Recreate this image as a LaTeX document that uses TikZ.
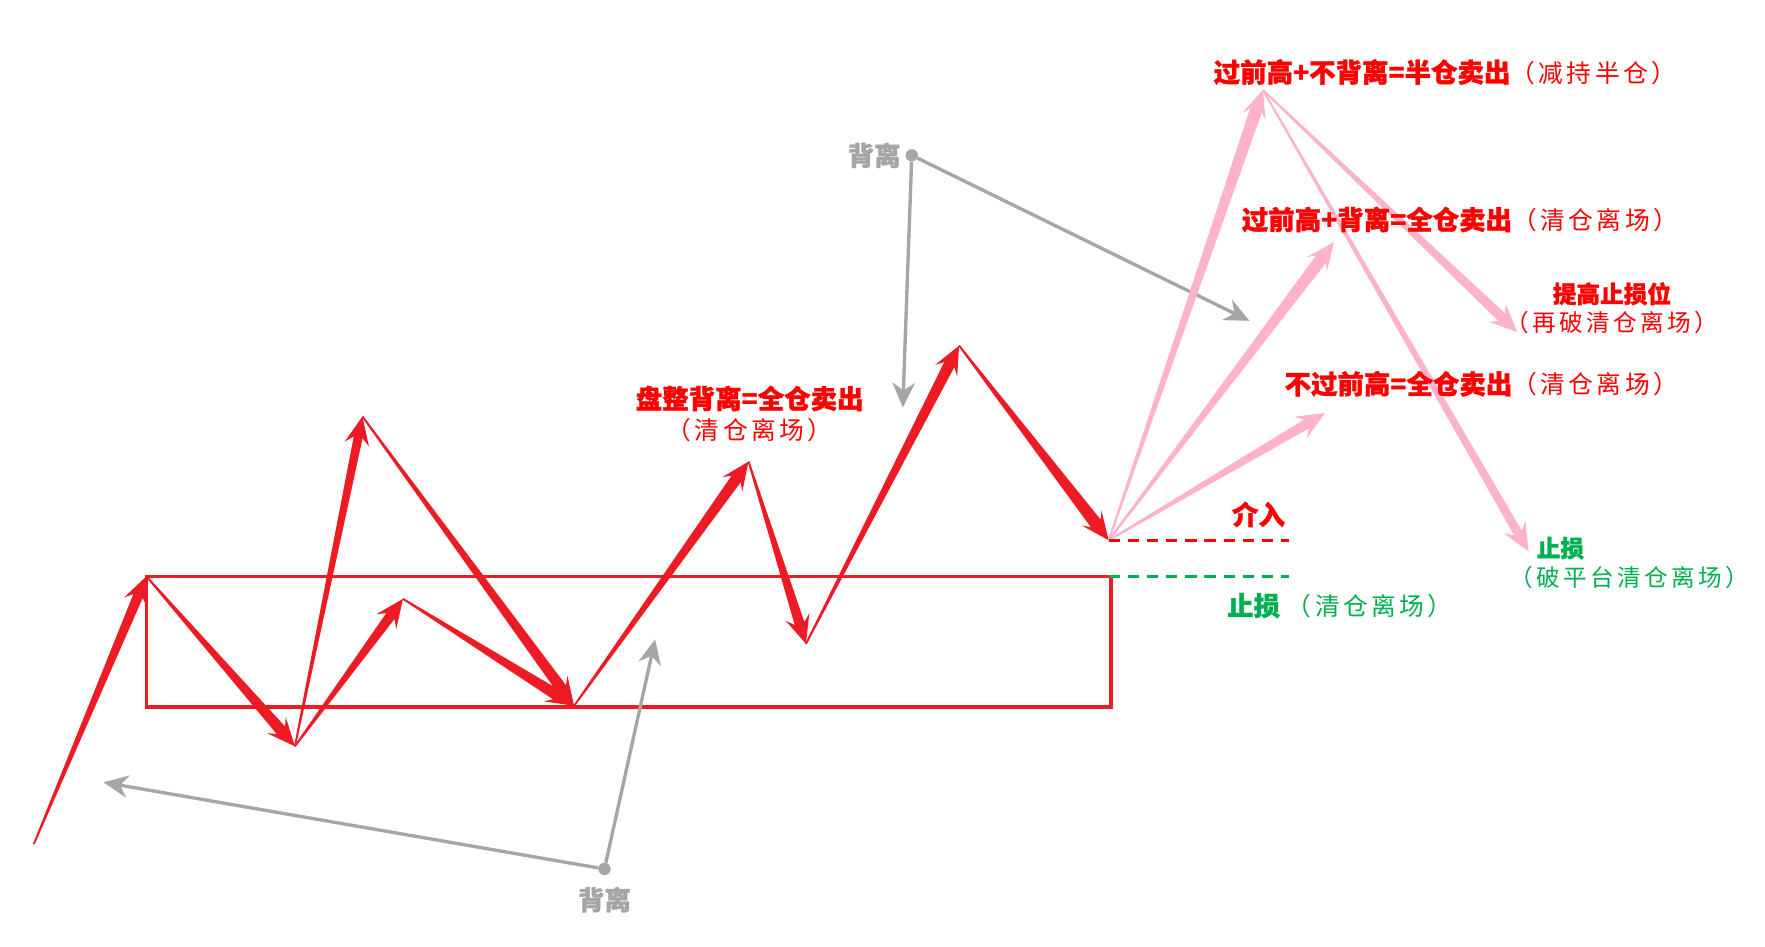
\documentclass[tikz,border=0pt]{standalone}
\usepackage{fontspec}
\setmainfont{Noto Sans CJK SC}[BoldFeatures={FakeBold=1.2}]
\newfontfamily\subfont{Noto Sans CJK SC}[LetterSpace=14]
\usepackage{tikz}
\usetikzlibrary{positioning, arrows.meta, calc}
\definecolor{kred}{HTML}{ED1C24}
\definecolor{tred}{HTML}{FF0000}
\definecolor{kpink}{HTML}{FFB3CB}
\definecolor{kgray}{HTML}{A6A6A6}
\definecolor{kgreen}{HTML}{00B050}
\newcommand{\paren}[1]{{\fontsize{22}{26}\subfont\mdseries #1}}

% tapered arrow: [colour]{from}{to}{half-width at the head}
\newcommand{\taperarrow}[4][kred]{%
  \coordinate (tN) at ($(#3)!19pt!(#2)$);
  \coordinate (tB) at ($(#3)!25pt!(#2)$);
  \fill[#1] ($(#2)!0.8pt!90:(#3)$) -- ($(tN)!#4!90:(#3)$) -- ($(tB)!11pt!90:(#3)$)
    -- (#3) -- ($(tB)!11pt!-90:(#3)$) -- ($(tN)!#4!-90:(#3)$)
    -- ($(#2)!0.8pt!-90:(#3)$) -- cycle;
}

\begin{document}
\begin{tikzpicture}[
  x=1pt, y=-1pt,
  box/.style={draw=kred, line width=3pt},
  gline/.style={draw=kgray, line width=3pt, -{Stealth[length=22pt,width=20pt,inset=7pt]}},
  gdot/.style={circle, fill=kgray, inner sep=0pt, minimum size=11pt},
  lbl/.style={font=\fontsize{23.5}{28}\selectfont\bfseries, text=tred, inner sep=1pt},
  sub/.style={font=\fontsize{22}{26}\subfont, text=tred, inner sep=1pt},
  small/.style={font=\fontsize{21}{25}\selectfont\bfseries},
  smallsub/.style={font=\fontsize{21}{25}\subfont},
]
\useasboundingbox (0,0) rectangle (1568,841);

% Price path
\coordinate (p0) at (30,750);
\coordinate (p1) at (130,512);
\coordinate (p2) at (262,663);
\coordinate (p3) at (322,370);
\coordinate (p4) at (358,532);
\coordinate (p5) at (510,627);
\coordinate (p6) at (665,410);
\coordinate (p7) at (716,572);
\coordinate (p8) at (852,307);
\coordinate (p9) at (985,480);
\coordinate (rc) at (987,628);

% Platform box
\draw[box] (p1) rectangle (rc);

\taperarrow{p0}{p1}{4.5pt}
\taperarrow{p1}{p2}{5pt}
\taperarrow{p2}{p3}{4pt}
\taperarrow{p2}{p4}{4.5pt}
\taperarrow{p4}{p5}{5pt}
\taperarrow{p3}{p5}{5pt}
\taperarrow{p5}{p6}{5pt}
\taperarrow{p6}{p7}{4.5pt}
\taperarrow{p7}{p8}{5pt}
\taperarrow{p8}{p9}{5.5pt}

% Divergence hints
\node[gdot] (dtop) at (810,138) {};
\node[gdot] (dbot) at (537,772) {};
\coordinate (g1) at (802,362);
\coordinate (g2) at (1110,285);
\coordinate (g3) at (92,695);
\coordinate (g4) at (582,568);
\draw[gline] (dtop) -- (g1);
\draw[gline] (dtop) -- (g2);
\draw[gline] (dbot) -- (g3);
\draw[gline] (dbot) -- (g4);
\node[lbl, text=kgray, left=3pt of dtop] (btop) {背离};
\node[lbl, text=kgray, below=9pt of dbot] (bbot) {背离};

% Scenarios after entry
\coordinate (k1) at (1122,80);
\coordinate (k2) at (1185,215);
\coordinate (k3) at (1177,367);
\coordinate (k4) at (1348,295);
\coordinate (k5) at (1358,490);
\taperarrow[kpink]{p9}{k1}{5.5pt}
\taperarrow[kpink]{p9}{k2}{5.5pt}
\taperarrow[kpink]{p9}{k3}{4.5pt}
\taperarrow[kpink]{k1}{k4}{4.5pt}
\taperarrow[kpink]{k1}{k5}{4pt}

% Entry and stop lines
\coordinate (e1) at (1145,480);
\coordinate (s0) at (985,512);
\coordinate (s1) at (1145,512);
\draw[tred, line width=2.5pt, dash pattern=on 10pt off 7pt] (p9) -- (e1);
\draw[kgreen, line width=2.5pt, dash pattern=on 10pt off 7pt] (s0) -- (s1);

% Labels
\node[lbl] (pz) at (666,354) {盘整背离=全仓卖出};
\node[sub, below=4pt of pz] (pzs) {（清仓离场）};
\node[lbl, anchor=west] (t1) at (1077,64) {过前高+不背离=半仓卖出\paren{（减持半仓）}};
\node[lbl, anchor=west] (t2) at (1102,195) {过前高+背离=全仓卖出\paren{（清仓离场）}};
\node[lbl, anchor=west] (t3) at (1140,341) {不过前高=全仓卖出\paren{（清仓离场）}};
\node[lbl, small] (tg) at (1432,261) {提高止损位};
\node[sub, smallsub, below=3pt of tg] (tgs) {（再破清仓离场）};
\node[lbl] (jr) at (1118,457) {介入};
\node[lbl, text=kgreen, anchor=west] (zs) at (1089,538) {止损\hspace{6pt}\paren{（清仓离场）}};
\node[lbl, small, text=kgreen, anchor=west] (zs2) at (1364,487) {止损};
\node[sub, smallsub, text=kgreen, anchor=west] (zs2s) at (1340,513) {（破平台清仓离场）};
\end{tikzpicture}
\end{document}
